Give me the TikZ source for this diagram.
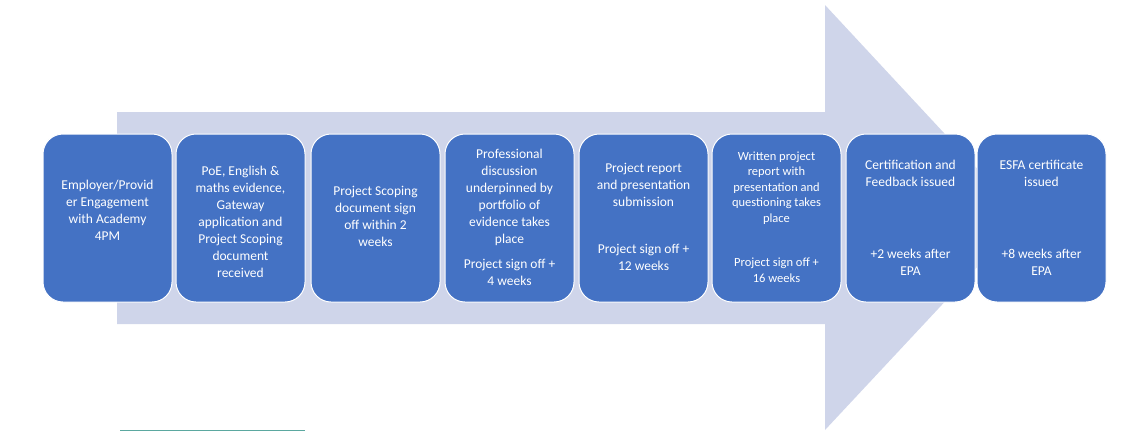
\documentclass[tikz,border=0pt]{standalone}
\usepackage{fontspec}
\setmainfont{Carlito}
\definecolor{boxblue}{HTML}{4472C4}
\definecolor{arrowbg}{HTML}{CFD5EA}
\definecolor{tealish}{HTML}{5BA8A0}
\begin{document}
\begin{tikzpicture}[x=1pt,y=-1pt,
  stage/.style={fill=boxblue,draw=white,line width=1pt,rounded corners=20pt},
  txt/.style={text=white,align=center,font=\fontsize{13.5}{17}\selectfont,inner sep=0pt},
  stxt/.style={text=white,align=center,font=\fontsize{12.5}{15.5}\selectfont,inner sep=0pt}]
\useasboundingbox (0,0) rectangle (1140,432);
\fill[arrowbg] (117,112) -- (825,112) -- (825,5) -- (1023,218) -- (825,430) -- (825,324) -- (117,324) -- cycle;
\draw[tealish,line width=1pt] (120,430) -- (305,430);
\foreach \a/\b [count=\i] in {43/172,176/305,311/440,445/574,579/708,712/841,846/975,977/1106}
  \draw[stage] (\a,134) rectangle (\b,302) coordinate (b\i);
\node[txt] (t1) at (107.5,210) {Employer/Provid\\er Engagement\\with Academy\\4PM};
\node[txt] (t2) at (240.5,222) {PoE, English \&\\maths evidence,\\Gateway\\application and\\Project Scoping\\document\\received};
\node[txt] (t3) at (375.5,216) {Project Scoping\\document sign\\off within 2\\weeks};
\node[txt] (t4a) at (509.5,197) {Professional\\discussion\\underpinned by\\portfolio of\\evidence takes\\place};
\node[txt] (t4b) at (509.5,272) {Project sign off +\\4 weeks};
\node[txt] (t5a) at (643.5,185) {Project report\\and presentation\\submission};
\node[txt] (t5b) at (643.5,257) {Project sign off +\\12 weeks};
\node[stxt] (t6a) at (776.5,188) {Written project\\report with\\presentation and\\questioning takes\\place};
\node[stxt] (t6b) at (776.5,270) {Project sign off +\\16 weeks};
\node[txt] (t7a) at (910.5,173) {Certification and\\Feedback issued};
\node[txt] (t7b) at (910.5,262) {+2 weeks after\\EPA};
\node[txt] (t8a) at (1041.5,173) {ESFA certificate\\issued};
\node[txt] (t8b) at (1041.5,262) {+8 weeks after\\EPA};
\end{tikzpicture}
\end{document}
